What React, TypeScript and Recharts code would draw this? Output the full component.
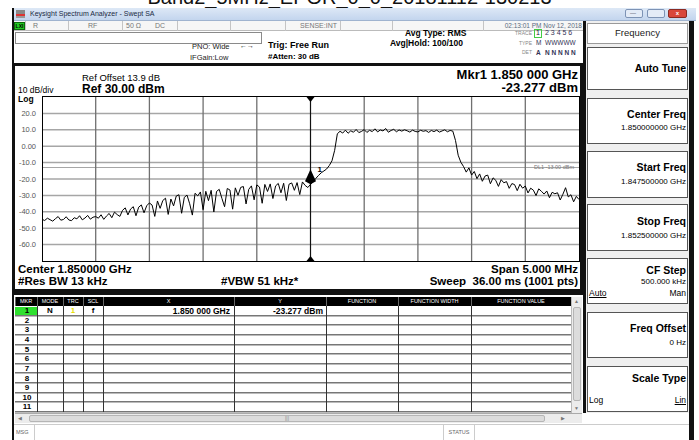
import React from 'react';
import { LineChart, Line, XAxis, YAxis, ReferenceLine, ReferenceDot } from 'recharts';

const FONT = '"Liberation Sans", Arial, Helvetica, sans-serif';

// ---- data ----
const startFreqMHz = 1847.5;
const stopFreqMHz = 1852.5;
const stepMHz = 0.025;
const traceDbm = [
  -44.6, -45.3, -43.9, -44.8, -45.7, -44.2, -42.9, -45.1, -44.7, -43.0,
  -45.0, -45.4, -43.6, -44.3, -42.4, -44.9, -43.8, -42.2, -44.5, -43.3,
  -42.9, -43.9, -41.8, -44.6, -42.6, -41.0, -43.6, -40.2, -41.7, -42.8,
  -39.1, -37.6, -41.9, -38.3, -36.9, -42.4, -37.2, -35.8, -40.6, -36.3,
  -34.6, -35.9, -42.8, -33.4, -37.9, -33.1, -31.7, -41.6, -32.2, -36.4,
  -30.4, -29.6, -40.9, -31.2, -29.8, -35.1, -42.0, -28.7, -30.3, -27.9,
  -38.7, -27.5, -33.2, -26.9, -40.1, -27.6, -26.3, -31.8, -36.9, -25.8,
  -26.7, -38.4, -25.4, -29.9, -25.1, -24.6, -35.2, -26.3, -24.2, -32.7,
  -23.6, -24.9, -34.8, -23.3, -27.6, -23.0, -31.9, -24.2, -22.7, -28.4,
  -22.6, -33.1, -23.2, -22.4, -26.9, -22.2, -29.5, -21.8, -23.9, -25.2,
  -23.3, -21.5, -19.6, -17.8, -16.2, -15.1, -13.9, -11.8, -8.9, -2.5,
  7.6, 9.1, 8.0, 9.8, 7.9, 9.4, 8.5, 10.2, 8.3, 9.0,
  10.1, 8.4, 9.7, 8.9, 10.6, 8.7, 9.9, 9.3, 10.8, 8.5,
  9.6, 10.3, 8.8, 9.9, 9.2, 10.0, 9.4, 8.6, 9.8, 9.0,
  8.7, 9.7, 9.1, 9.5, 8.4, 9.6, 8.9, 9.8, 8.6, 9.3,
  10.0, 8.8, 9.6, 9.2, 3.5, -5.5, -9.8, -12.4, -15.8, -13.2,
  -17.6, -15.4, -19.8, -16.9, -21.4, -18.2, -17.6, -22.9, -19.3, -20.8,
  -24.5, -20.4, -22.3, -21.6, -25.7, -22.8, -23.4, -27.1, -23.2, -25.6,
  -24.3, -28.5, -25.6, -26.8, -30.1, -26.0, -27.5, -29.2, -27.3, -31.4,
  -28.1, -29.0, -28.4, -32.8, -29.3, -25.3, -30.9, -29.6, -33.9, -30.6, -32.5,
];
const yTicks = [30, 20, 10, 0, -10, -20, -30, -40, -50, -60, -70];
const xGridMHz = [1848.0, 1848.5, 1849.0, 1849.5, 1850.5, 1851.0, 1851.5, 1852.0];
const markerFreqMHz = 1850.0;
const markerDbm = -23.277;
const displayLineDbm = -13;

const tableHeaders = ['MKR', 'MODE', 'TRC', 'SCL', 'X', 'Y', 'FUNCTION', 'FUNCTION WIDTH', 'FUNCTION VALUE'];
const tableColEdges = [15, 37, 63, 83, 103, 234, 326, 398, 471, 571];
const tableRowIds = ['1', '2', '3', '4', '5', '6', '7', '8', '9', '10', '11'];
const statusCellEdges = [25, 68, 122, 177, 230, 285, 340, 392, 483, 585];

const softkeys = [
  { title: 'Auto Tune', value: '', top: 47, h: 43 },
  { title: 'Center Freq', value: '1.850000000 GHz', top: 98, h: 46 },
  { title: 'Start Freq', value: '1.847500000 GHz', top: 151, h: 47 },
  { title: 'Stop Freq', value: '1.852500000 GHz', top: 204, h: 47 },
  { title: 'CF Step', value: '500.000 kHz', top: 258, h: 46 },
  { title: 'Freq Offset', value: '0 Hz', top: 312, h: 46 },
  { title: 'Scale Type', value: '', top: 366, h: 46 },
];

const traceData = traceDbm.map((v, i) => ({ f: +(startFreqMHz + i * stepMHz).toFixed(3), dbm: v }));

// ---- helpers ----
type TP = { x: number; y: number; s?: number; b?: boolean; c?: string; a?: 'left' | 'right' | 'center'; children: React.ReactNode; st?: React.CSSProperties };
function T({ x, y, s = 8, b = false, c = '#000', a = 'left', children, st }: TP) {
  const style: React.CSSProperties = {
    position: 'absolute',
    top: y - s * 0.59,
    fontSize: s,
    lineHeight: `${s * 1.2}px`,
    fontWeight: b ? 'bold' : 'normal',
    color: c,
    whiteSpace: 'nowrap',
    fontFamily: FONT,
    ...st,
  };
  if (a === 'left') style.left = x;
  else if (a === 'right') style.right = 699 - x;
  else { style.left = x; style.transform = 'translateX(-50%)'; }
  return <div style={style}>{children}</div>;
}
function Box({ l, t, w, h, st }: { l: number; t: number; w: number; h: number; st?: React.CSSProperties }) {
  return <div style={{ position: 'absolute', left: l, top: t, width: w, height: h, boxSizing: 'border-box', ...st }} />;
}

const TopTri = (p: any) => <path d={`M${p.cx - 4},${p.cy} L${p.cx + 4},${p.cy} L${p.cx},${p.cy + 5} Z`} fill="#000" />;
const BotTri = (p: any) => <path d={`M${p.cx - 4},${p.cy} L${p.cx + 4},${p.cy} L${p.cx},${p.cy - 5} Z`} fill="#000" />;
const MkrShape = (p: any) => (
  <g>
    <path d={`M${p.cx},${p.cy - 15} L${p.cx + 5.5},${p.cy - 3} L${p.cx},${p.cy} L${p.cx - 5.5},${p.cy - 3} Z`} fill="#000" />
    <text x={p.cx + 7} y={p.cy - 12} fontSize={8} fontWeight="bold" fontFamily={FONT} fill="#000">1</text>
  </g>
);

function Spectrum() {
  return (
    <LineChart width={565} height={164} data={traceData} margin={{ top: 0, right: 0, bottom: 0, left: 0 }}>
      <XAxis type="number" dataKey="f" domain={[startFreqMHz, stopFreqMHz]} hide allowDataOverflow />
      <YAxis
        type="number"
        domain={[-70, 30]}
        ticks={yTicks}
        width={28}
        axisLine={false}
        tickLine={false}
        tickSize={3}
        tickMargin={3}
        interval={0}
        tick={{ fontSize: 7.5, fill: '#555', fontFamily: FONT }}
        tickFormatter={(v: number) => (v === 30 || v === -70 ? '' : v === 0 ? '0.00' : v.toFixed(1))}
      />
      {yTicks.filter((v) => v !== 30 && v !== -70).map((v) => (
        <ReferenceLine key={'h' + v} y={v} stroke="#a6a6a6" strokeWidth={1.5} />
      ))}
      <ReferenceLine y={displayLineDbm} stroke="#a6a6a6" strokeWidth={1.2}
        label={{ value: 'DL1 -13.00 dBm', position: 'insideRight', fontSize: 5.5, fill: '#777', fontFamily: FONT }} />
      {xGridMHz.map((f) => (
        <ReferenceLine key={'v' + f} x={f} stroke="#707070" strokeWidth={1.3} />
      ))}
      <ReferenceLine x={markerFreqMHz} stroke="#111" strokeWidth={1.2} />
      <Line type="linear" dataKey="dbm" stroke="#000" strokeWidth={1} dot={false} isAnimationActive={false} />
      <ReferenceDot x={markerFreqMHz} y={30} ifOverflow="visible" shape={TopTri} />
      <ReferenceDot x={markerFreqMHz} y={-70} ifOverflow="visible" shape={BotTri} />
      <ReferenceDot x={markerFreqMHz} y={markerDbm} ifOverflow="visible" shape={MkrShape} />
    </LineChart>
  );
}

export default function App() {
  const rowH = 9.63;
  return (
    <div style={{ position: 'fixed', left: 0, top: 0, width: 699, height: 440, background: '#fff', overflow: 'hidden', fontFamily: FONT }}>
      {/* page title, clipped at top */}
      <div style={{ position: 'absolute', top: -13, left: 0, width: 699, textAlign: 'center', fontSize: 20, lineHeight: '20px', fontFamily: FONT, color: '#111', whiteSpace: 'nowrap' }}>
        Band2_5MHz_EPOR_0_0_20181112-130213
      </div>

      {/* window frame */}
      <Box l={12} t={8} w={682} h={432} st={{ borderLeft: '2px solid #111', borderRight: '3px solid #111', background: '#fff' }} />
      {/* title bar */}
      <Box l={14} t={8} w={682} h={13} st={{ background: 'linear-gradient(#dde8f6, #c3d5ee)', borderBottom: '1px solid #9fb3cf' }} />
      <Box l={16} t={10} w={9} h={8} st={{ background: 'linear-gradient(#888 0 45%, #d33 45% 70%, #999 70%)' }} />
      <T x={30} y={14.5} s={7} c="#1a2a44">Keysight Spectrum Analyzer - Swept SA</T>
      <Box l={625} t={9} w={18} h={9} st={{ background: '#e3ebf7', border: '1px solid #7d93b5', borderRadius: 2 }} />
      <Box l={647} t={9} w={18} h={9} st={{ background: '#e3ebf7', border: '1px solid #7d93b5', borderRadius: 2 }} />
      <Box l={668} t={9} w={19} h={9} st={{ background: '#d9473b', border: '1px solid #8a2a22', borderRadius: 2 }} />
      <T x={677.5} y={13.5} s={6} b c="#fff" a="center">x</T>
      <T x={630} y={13.5} s={6} c="#445">—</T>

      {/* status row */}
      <Box l={14} t={21} w={571} h={10} st={{ background: '#f6f6f6', borderBottom: '1px solid #bbb' }} />
      <Box l={14} t={22} w={11} h={8} st={{ background: '#22c922', border: '1px solid #0a6a0a' }} />
      <T x={19.5} y={26} s={5} b a="center">LXI</T>
      {statusCellEdges.map((x) => (
        <Box key={'sc' + x} l={x} t={21} w={1} h={10} st={{ background: '#c4c4c4' }} />
      ))}
      <T x={33} y={26} s={7} c="#777">R</T>
      <T x={88} y={26} s={7} c="#777">RF</T>
      <T x={126} y={26} s={7} c="#777">50 Ω</T>
      <T x={155} y={26} s={7} c="#777">DC</T>
      <T x={337} y={26} s={7} c="#777" a="right">SENSE:INT</T>
      <T x={582} y={26} s={6.5} c="#5a6a80" a="right">02:13:01 PM Nov 12, 2018</T>

      {/* info area */}
      <Box l={15} t={32} w={247} h={12} st={{ border: '1px solid #8a8a8a' }} />
      <T x={192} y={46} s={7.5} c="#222">PNO: Wide</T>
      <T x={240} y={46} s={7} c="#222">{'←→'}</T>
      <T x={190} y={57} s={7.5} c="#222">IFGain:Low</T>
      <T x={268} y={45.5} s={9} b>Trig: Free Run</T>
      <T x={268} y={57} s={8} b>#Atten: 30 dB</T>
      <T x={405} y={33.5} s={8.5} b>Avg Type: RMS</T>
      <T x={390} y={43.5} s={8.5} b>Avg|Hold: 100/100</T>
      <T x={532} y={33} s={5} c="#888" a="right">TRACE</T>
      <T x={532} y={42.5} s={5} c="#888" a="right">TYPE</T>
      <T x={532} y={52} s={5} c="#888" a="right">DET</T>
      <Box l={534} t={29} w={8} h={9} st={{ border: '1px solid #4c4' }} />
      <T x={536} y={33.5} s={7} c="#223">1</T>
      <T x={545} y={33.5} s={7} c="#335">2 3 4 5 6</T>
      <T x={536} y={43} s={6.5} c="#335">M</T>
      <T x={545} y={43} s={6.5} c="#335">WWWWW</T>
      <T x={536} y={52.5} s={6.5} b c="#335">A</T>
      <T x={545} y={52.5} s={6.5} b c="#335">N N N N N</T>

      {/* graph panel */}
      <Box l={12} t={63} w={571} h={232} st={{ border: '3px solid #111', borderBottomWidth: 6, background: '#fff' }} />
      <T x={82} y={78} s={9.5}>Ref Offset 13.9 dB</T>
      <T x={82} y={89} s={12} b>Ref 30.00 dBm</T>
      <T x={18} y={90.5} s={8.5}>10 dB/div</T>
      <T x={18} y={99.5} s={8.5} b>Log</T>
      <T x={578} y={74.5} s={13} b a="right">Mkr1 1.850 000 GHz</T>
      <T x={578} y={88} s={13} b a="right">-23.277 dBm</T>
      <T x={18} y={269.5} s={11.5} b>Center 1.850000 GHz</T>
      <T x={18} y={281.5} s={11.5} b>#Res BW 13 kHz</T>
      <T x={221} y={281.5} s={11.5} b>#VBW 51 kHz*</T>
      <T x={578} y={269.5} s={11.5} b a="right">Span 5.000 MHz</T>
      <T x={578} y={281.5} s={11.5} b a="right" st={{ whiteSpace: 'pre' }}>{'Sweep  36.00 ms (1001 pts)'}</T>

      <div style={{ position: 'absolute', left: 14, top: 97, width: 565, height: 164 }}>
        <Spectrum />
      </div>
      <Box l={42} t={96} w={538} h={166} st={{ border: '1.5px solid #000' }} />

      {/* marker table */}
      <Box l={15} t={297} w={556} h={9} st={{ background: '#000' }} />
      {tableHeaders.map((h, i) => (
        <T key={h} x={(tableColEdges[i] + tableColEdges[i + 1]) / 2} y={301.5} s={5.5} c="#fff" a="center">{h}</T>
      ))}
      {tableColEdges.map((x) => (
        <Box key={'hc' + x} l={x} t={297} w={1} h={9} st={{ background: '#666' }} />
      ))}
      {tableRowIds.map((r, i) => (
        <Box key={'rl' + r} l={15} t={306 + (i + 1) * rowH - 1} w={556} h={1.5} st={{ borderTop: '1px solid #777', borderBottom: '0.5px solid #bbb' }} />
      ))}
      {tableColEdges.slice(1).map((x) => (
        <Box key={'cl' + x} l={x} t={306} w={1} h={rowH * 11} st={{ background: '#333' }} />
      ))}
      <Box l={15} t={306.5} w={22} h={rowH - 1} st={{ background: '#2fe02f' }} />
      {tableRowIds.map((r, i) => (
        <T key={'rn' + r} x={27} y={306 + i * rowH + rowH / 2} s={8} b a="center">{r}</T>
      ))}
      <T x={50} y={311} s={8} b a="center">N</T>
      <T x={73} y={311} s={8} b c="#e8e000" a="center">1</T>
      <T x={93} y={311} s={8} b a="center">f</T>
      <T x={230} y={311} s={8.5} b a="right">1.850 000 GHz</T>
      <T x={323} y={311} s={8.5} b a="right">-23.277 dBm</T>

      {/* vertical scrollbar */}
      <Box l={571} t={297} w={11} h={116} st={{ background: '#ececec', borderLeft: '1px solid #bbb' }} />
      <Box l={573} t={307} w={8} h={94} st={{ background: '#dcdcdc', border: '1px solid #b5b5b5', borderRadius: 2 }} />
      <T x={576.5} y={301} s={5} c="#777" a="center">▲</T>
      <T x={576.5} y={408} s={5} c="#777" a="center">▼</T>
      {/* horizontal scrollbar */}
      <Box l={15} t={413} w={567} h={10} st={{ background: '#ececec', borderTop: '1px solid #aaa' }} />
      <Box l={29} t={415} w={516} h={7} st={{ background: '#dcdcdc', border: '1px solid #b5b5b5', borderRadius: 2 }} />
      <T x={20} y={418} s={5} c="#777" a="center">◀</T>
      <T x={563} y={418} s={5} c="#777" a="center">▶</T>
      <T x={287} y={418} s={5} c="#888" a="center">|||</T>

      {/* bottom message bar */}
      <Box l={14} t={424} w={675} h={16} st={{ background: '#fff', borderTop: '1px solid #ccc' }} />
      <Box l={14} t={425} w={21} h={15} st={{ borderRight: '1px solid #ccc' }} />
      <T x={16} y={432.5} s={5.5} c="#666">MSG</T>
      <Box l={443} t={425} w={32} h={15} st={{ borderLeft: '1px solid #ccc', borderRight: '1px solid #ccc' }} />
      <T x={459} y={432.5} s={5.5} c="#666" a="center">STATUS</T>

      {/* softkey panel */}
      <Box l={583} t={21} w={3} h={392} st={{ background: '#111' }} />
      <Box l={586} t={21} w={103} h={392} st={{ background: '#efefef' }} />
      <Box l={586} t={413} w={103} h={11} st={{ background: '#fff' }} />
      <Box l={587} t={23} w={101} h={21} st={{ background: '#fff', border: '1px solid #9a9a9a' }} />
      <T x={637.5} y={33} s={9.5} c="#222" a="center">Frequency</T>
      {softkeys.map((k) => (
        <Box key={k.title} l={587} t={k.top} w={101} h={k.h} st={{ background: '#fff', border: '1.5px solid #555' }} />
      ))}
      <T x={686} y={68} s={10.5} b a="right">Auto Tune</T>
      <T x={686} y={114} s={10.5} b a="right">Center Freq</T>
      <T x={686} y={128} s={8} a="right">1.850000000 GHz</T>
      <T x={686} y={167.5} s={10.5} b a="right">Start Freq</T>
      <T x={686} y={182} s={8} a="right">1.847500000 GHz</T>
      <T x={686} y={221} s={10.5} b a="right">Stop Freq</T>
      <T x={686} y={236} s={8} a="right">1.852500000 GHz</T>
      <T x={686} y={270} s={10.5} b a="right">CF Step</T>
      <T x={686} y={282} s={8} a="right">500.000 kHz</T>
      <T x={589} y={293.5} s={8.5} st={{ textDecoration: 'underline' }}>Auto</T>
      <T x={686} y={293.5} s={8.5} a="right">Man</T>
      <T x={686} y={328} s={10.5} b a="right">Freq Offset</T>
      <T x={686} y={343} s={8} a="right">0 Hz</T>
      <T x={686} y={378.5} s={10.5} b a="right">Scale Type</T>
      <T x={589} y={400.5} s={8.5}>Log</T>
      <T x={686} y={400.5} s={8.5} a="right" st={{ textDecoration: 'underline' }}>Lin</T>
      <Box l={689} t={21} w={4} h={419} st={{ background: '#111' }} />
    </div>
  );
}
